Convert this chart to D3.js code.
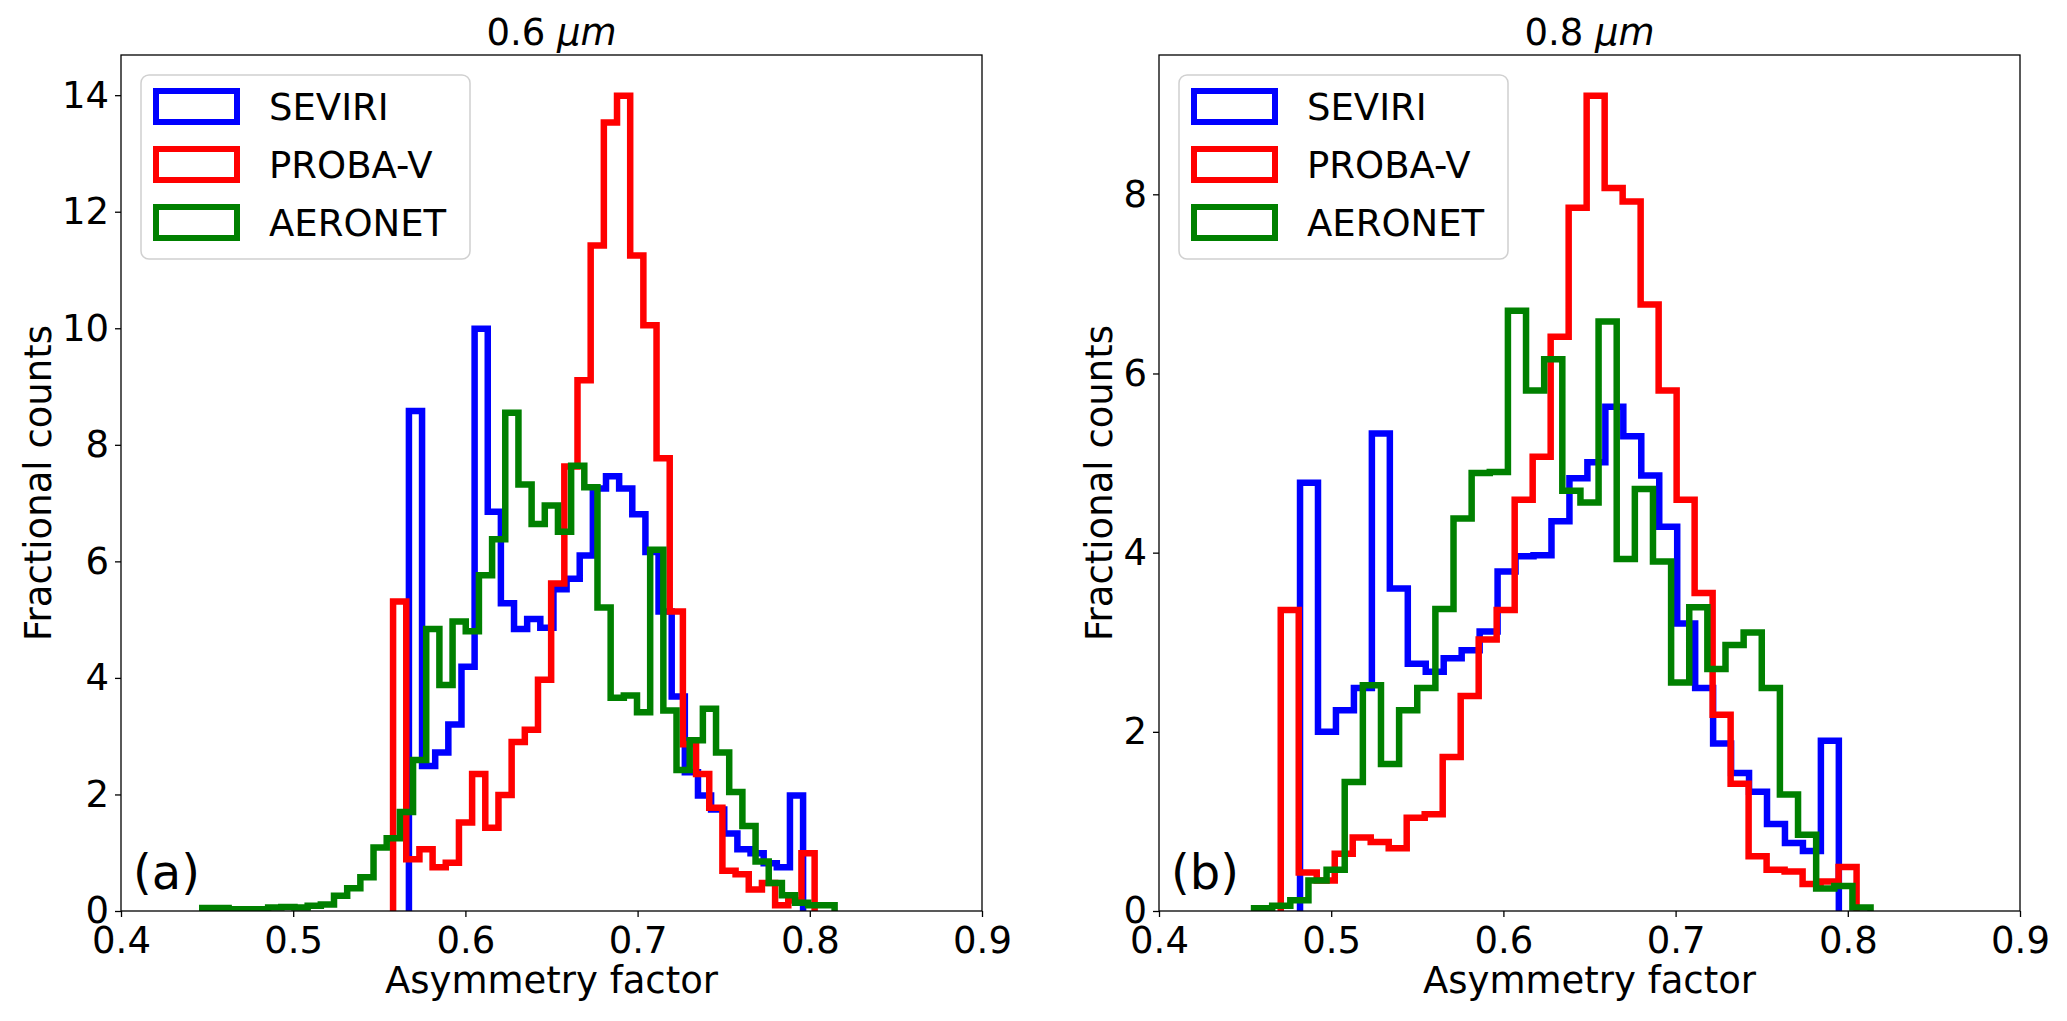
<!DOCTYPE html>
<html lang="en">
<head>
<meta charset="UTF-8">
<title>Asymmetry factor histograms</title>
<script src="https://d3js.org/d3.v7.min.js"></script>
<style>
    body {
        margin: 0;
        background: #fff;
    }
    svg text {
        font-family: "DejaVu Sans", sans-serif;
        fill: #000;
    }
    .tick line {
        stroke: #000;
        stroke-width: 1.3px;
    }
    .frame {
        fill: none;
        stroke: #000;
        stroke-width: 1.3px;
    }
    .hist {
        fill: none;
        stroke-width: 6.5px;
        stroke-linejoin: miter;
    }
</style>
</head>
<body>
<svg id="chart" width="2067" height="1021"></svg>
<script>
// tick labels
var xTicks = [0.4, 0.5, 0.6, 0.7, 0.8, 0.9];
var yTicksA = [0, 2, 4, 6, 8, 10, 12, 14];
var yTicksB = [0, 2, 4, 6, 8];
var seriesNames = ["SEVIRI", "PROBA-V", "AERONET"];

// panel (a) 0.6 um : [first bin edge, bin width] + bin heights (fractional counts)
var aSeviriBins = [0.5672, 0.00763];
var aSeviri = [8.58, 2.49, 2.72, 3.20, 4.19, 9.99, 6.85, 5.28, 4.84, 5.01, 4.86, 5.52, 5.70, 6.10, 7.25,
    7.46, 7.25, 6.81, 6.16, 5.14, 3.68, 2.38, 1.98, 1.74, 1.33, 1.06, 0.99, 0.82, 0.75, 1.98];
var aProbaBins = [0.558, 0.00765];
var aProba = [5.31, 0.89, 1.06, 0.75, 0.83, 1.52, 2.35, 1.43, 1.99, 2.90, 3.11, 3.97, 5.62, 7.63, 9.11,
    11.42, 13.53, 13.99, 11.25, 10.05, 7.77, 5.14, 2.86, 2.35, 1.77, 0.69, 0.63, 0.37, 0.48, 0.10, 0.18, 0.99];
var aAeronetBins = [0.4472, 0.00765];
var aAeronet = [0.05, 0.05, 0.03, 0.03, 0.03, 0.06, 0.07, 0.06, 0.09, 0.11, 0.26, 0.39, 0.58, 1.09, 1.25,
    1.70, 2.59, 4.84, 3.88, 4.97, 4.80, 5.76, 6.38, 8.55, 7.32, 6.64, 6.96, 6.51, 7.64, 7.27, 5.21, 3.66,
    3.70, 3.41, 6.20, 3.44, 2.42, 2.93, 3.47, 2.72, 2.04, 1.46, 0.85, 0.48, 0.27, 0.14, 0.10, 0.10];

// panel (b) 0.8 um
var bSeviriBins = [0.4819, 0.01043];
var bSeviri = [4.78, 2.00, 2.24, 2.49, 5.33, 3.60, 2.76, 2.67, 2.82, 2.91, 3.12, 3.79, 3.96, 3.97, 4.35,
    4.83, 5.01, 5.63, 5.30, 4.86, 4.29, 3.21, 2.49, 1.87, 1.54, 1.33, 0.97, 0.76, 0.67, 1.90];
var bProbaBins = [0.4707, 0.01045];
var bProba = [3.36, 0.43, 0.34, 0.64, 0.82, 0.77, 0.70, 1.04, 1.08, 1.72, 2.40, 3.03, 3.36, 4.59, 5.07,
    6.41, 7.85, 9.10, 8.07, 7.92, 6.77, 5.81, 4.59, 3.55, 2.19, 1.42, 0.61, 0.46, 0.44, 0.30, 0.33, 0.49];
var bAeronetBins = [0.4552, 0.01053];
var bAeronet = [0.03, 0.06, 0.12, 0.34, 0.46, 1.44, 2.52, 1.64, 2.24, 2.49, 3.37, 4.38, 4.89, 4.90, 6.70,
    5.81, 6.16, 4.69, 4.56, 6.58, 3.93, 4.71, 3.90, 2.55, 3.39, 2.70, 2.97, 3.11, 2.49, 1.30, 0.85, 0.25,
    0.28, 0.04];

var colors = ["#0000ff", "#ff0000", "#008000"];

var panels = [
    {id: "a", title: "0.6 ", label: "(a)", left: 121, right: 982, yTicks: yTicksA, ylabOff: 70,
     series: [[aSeviriBins, aSeviri], [aProbaBins, aProba], [aAeronetBins, aAeronet]]},
    {id: "b", title: "0.8 ", label: "(b)", left: 1159, right: 2020, yTicks: yTicksB, ylabOff: 47,
     series: [[bSeviriBins, bSeviri], [bProbaBins, bProba], [bAeronetBins, bAeronet]]}
];

var plotTop = 55, plotBottom = 911;
var svg = d3.select("#chart");

panels.forEach(function(p) {
    var x = d3.scaleLinear().domain([0.4, 0.9]).range([p.left, p.right]);
    var ymax = d3.max(p.series, function(s) { return d3.max(s[1]); }) * 1.05;
    var y = d3.scaleLinear().domain([0, ymax]).range([plotBottom, plotTop]);

    svg.append("clipPath").attr("id", "clip-" + p.id)
      .append("rect")
        .attr("x", p.left).attr("y", plotTop)
        .attr("width", p.right - p.left).attr("height", plotBottom - plotTop);

    var g = svg.append("g");

    // step outlines, same as histtype='step'
    var line = d3.line().x(function(d) { return x(d[0]); }).y(function(d) { return y(d[1]); });
    p.series.forEach(function(s, i) {
        var x0 = s[0][0], w = s[0][1], h = s[1];
        var pts = [[x0, 0]];
        h.forEach(function(v, k) {
            pts.push([x0 + k * w, v]);
            pts.push([x0 + (k + 1) * w, v]);
        });
        pts.push([x0 + h.length * w, 0]);
        g.append("path")
            .attr("class", "hist")
            .attr("clip-path", "url(#clip-" + p.id + ")")
            .attr("stroke", colors[i])
            .attr("d", line(pts));
    });

    // axes
    var xAxis = g.append("g")
        .attr("transform", "translate(0," + plotBottom + ")")
        .call(d3.axisBottom(x).tickValues(xTicks).tickFormat(d3.format(".1f"))
            .tickSize(6).tickSizeOuter(0).tickPadding(8));
    xAxis.select(".domain").remove();
    xAxis.selectAll("text").attr("font-size", 37).attr("dy", "0.76em");

    var yAxis = g.append("g")
        .attr("transform", "translate(" + p.left + ",0)")
        .call(d3.axisLeft(y).tickValues(p.yTicks).tickFormat(d3.format("d"))
            .tickSize(6).tickSizeOuter(0).tickPadding(6));
    yAxis.select(".domain").remove();
    yAxis.selectAll("text").attr("font-size", 37);

    g.append("rect").attr("class", "frame")
        .attr("x", p.left).attr("y", plotTop)
        .attr("width", p.right - p.left).attr("height", plotBottom - plotTop);

    // title with italic unit
    var t = g.append("text")
        .attr("x", (p.left + p.right) / 2).attr("y", 45)
        .attr("text-anchor", "middle").attr("font-size", 37)
        .text(p.title);
    t.append("tspan").attr("font-style", "italic").text("\u03bcm");

    g.append("text")
        .attr("x", (p.left + p.right) / 2).attr("y", 993)
        .attr("text-anchor", "middle").attr("font-size", 37)
        .text("Asymmetry factor");

    g.append("text")
        .attr("transform", "translate(" + (p.left - p.ylabOff) + "," + ((plotTop + plotBottom) / 2) + ") rotate(-90)")
        .attr("text-anchor", "middle").attr("font-size", 37)
        .text("Fractional counts");

    g.append("text")
        .attr("x", p.left + 12).attr("y", 889)
        .attr("font-size", 48)
        .text(p.label);

    // legend
    var lg = g.append("g").attr("transform", "translate(" + (p.left + 20) + ",75)");
    lg.append("rect")
        .attr("width", 329).attr("height", 184).attr("rx", 8)
        .attr("fill", "#fff").attr("fill-opacity", 0.8)
        .attr("stroke", "#d0d0d0").attr("stroke-width", 1.5);
    seriesNames.forEach(function(name, i) {
        var cy = 32 + i * 58;
        lg.append("rect")
            .attr("x", 15).attr("y", cy - 16).attr("width", 81).attr("height", 31)
            .attr("fill", "none").attr("stroke", colors[i]).attr("stroke-width", 6);
        lg.append("text")
            .attr("x", 128).attr("y", cy + 13)
            .attr("font-size", 37)
            .text(name);
    });
});
</script>
</body>
</html>
